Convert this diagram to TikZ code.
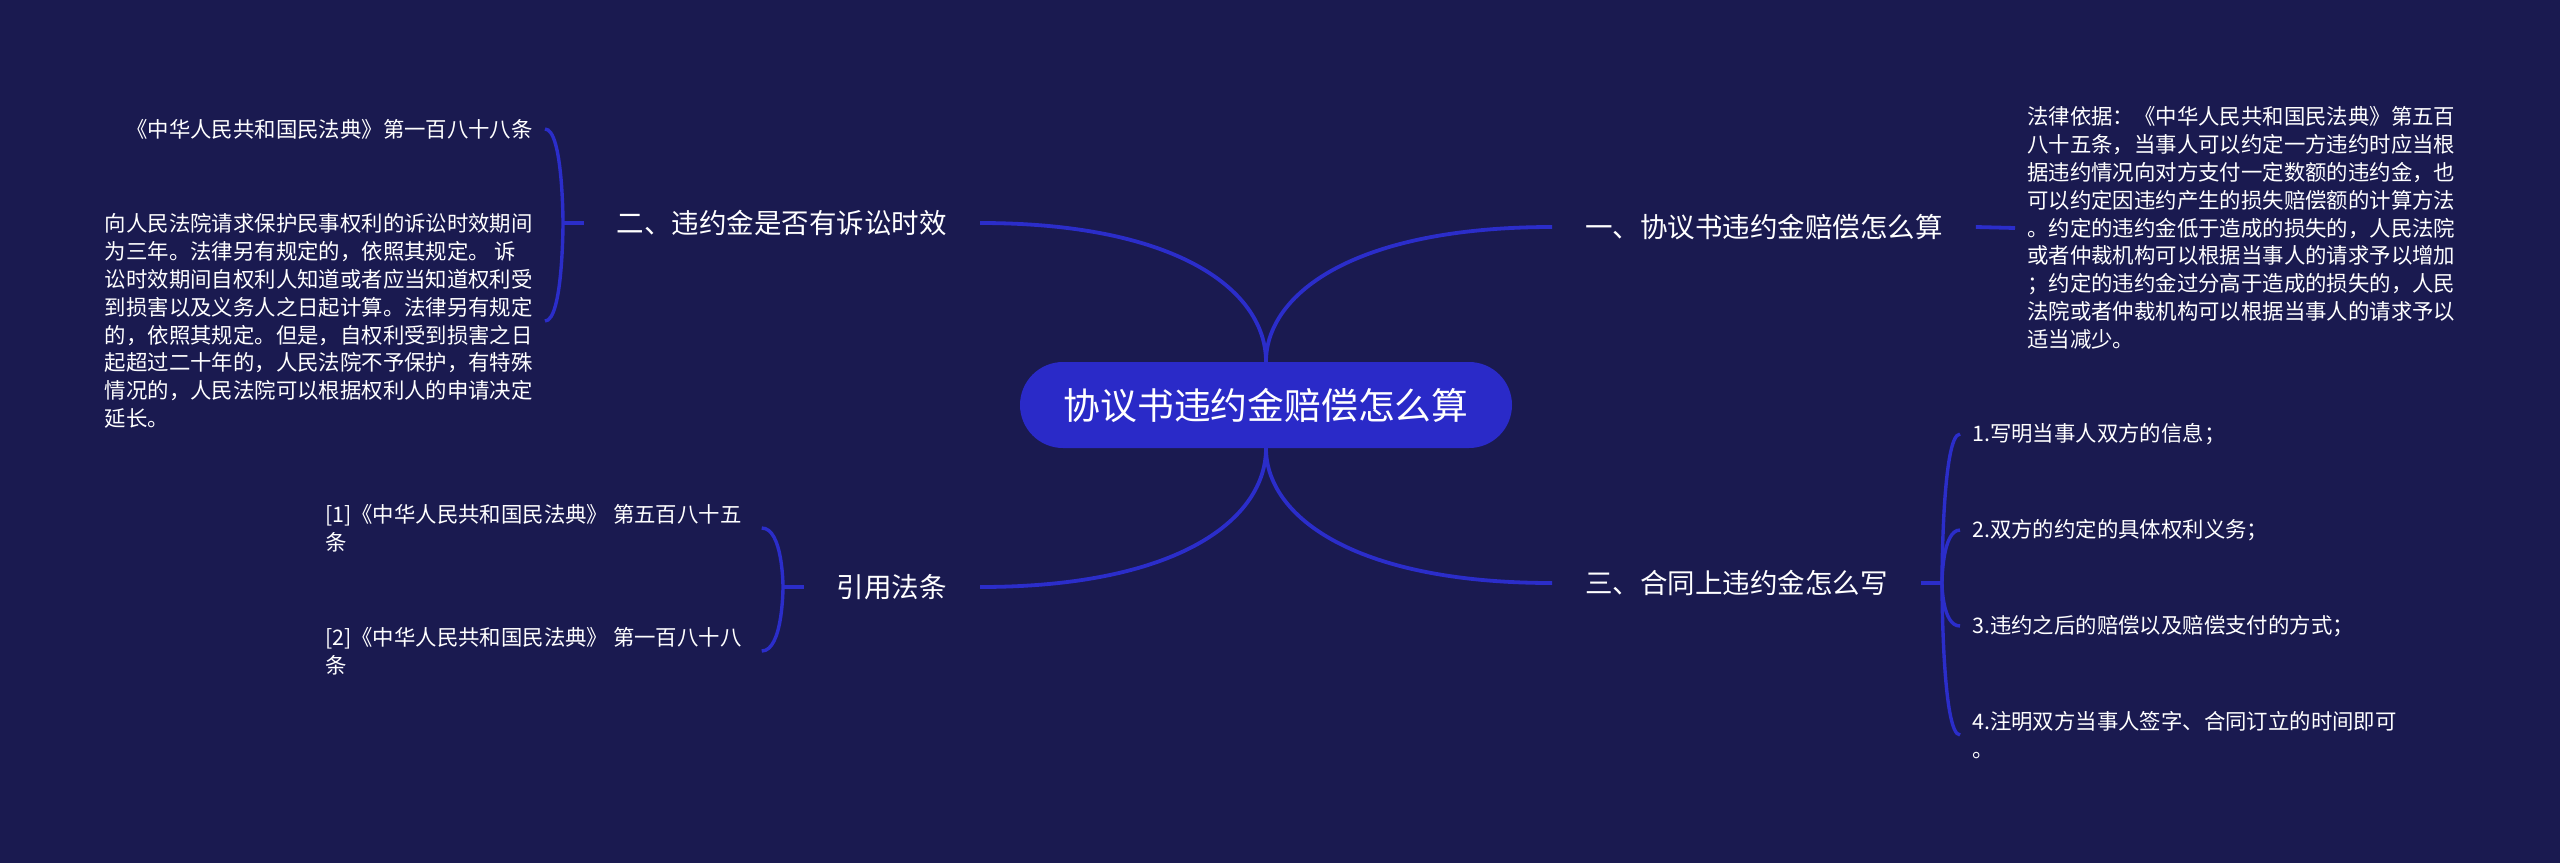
\documentclass[tikz,border=0pt]{standalone}
\usepackage{fontspec}
\setmainfont{Noto Sans CJK SC}
\definecolor{bg}{HTML}{1A1A50}
\definecolor{hub}{HTML}{2A2AC8}
\definecolor{wire}{HTML}{2B2DCA}
\begin{document}
\begin{tikzpicture}[x=1pt,y=-1pt,
  link/.style={draw=wire,line width=3.8pt},
  brace/.style={draw=wire,line width=3.4pt},
  hubnode/.style={fill=hub,rounded corners=43pt,minimum width=492pt,minimum height=86pt,inner sep=0pt,text=white,font=\fontsize{36.8pt}{44pt}\selectfont},
  topic/.style={text=white,inner xsep=33pt,inner ysep=4pt,font=\fontsize{27.5pt}{33pt}\selectfont},
  leaf/.style={text=white,inner xsep=12pt,inner ysep=2pt,align=left,font=\fontsize{21.4pt}{27.8pt}\selectfont},
]
\fill[bg] (0,0) rectangle (2560,863);
\useasboundingbox (0,0) rectangle (2560,863);

% hub and main topics
\node[hubnode] (c) at (1266,405) {协议书违约金赔偿怎么算};
\node[topic,anchor=west] (t1) at (1552,227) {一、协议书违约金赔偿怎么算};
\node[topic,anchor=east] (t2) at (980,223) {二、违约金是否有诉讼时效};
\node[topic,anchor=west] (t3) at (1552,583) {三、合同上违约金怎么写};
\node[topic,anchor=east] (t4) at (980,587) {引用法条};

\draw[link] (c.north) .. controls +(0,-67) and +(-200,0) .. (t1.west);
\draw[link] (c.north) .. controls +(0,-70) and +(200,0) .. (t2.east);
\draw[link] (c.south) .. controls +(0,67) and +(-200,0) .. (t3.west);
\draw[link] (c.south) .. controls +(0,70) and +(200,0) .. (t4.east);

% topic 1
\node[leaf,anchor=west] (r1) at (2015,228) {法律依据：《中华人民共和国民法典》第五百\\八十五条，当事人可以约定一方违约时应当根\\据违约情况向对方支付一定数额的违约金，也\\可以约定因违约产生的损失赔偿额的计算方法\\。约定的违约金低于造成的损失的，人民法院\\或者仲裁机构可以根据当事人的请求予以增加\\；约定的违约金过分高于造成的损失的，人民\\法院或者仲裁机构可以根据当事人的请求予以\\适当减少。};
\draw[link] (t1.east) -- (r1.west);

% topic 3
\coordinate (b3) at (1942,583);
\node[leaf,anchor=west] (k1) at (1960,434) {1.写明当事人双方的信息；};
\node[leaf,anchor=west] (k2) at (1960,530) {2.双方的约定的具体权利义务；};
\node[leaf,anchor=west] (k3) at (1960,626) {3.违约之后的赔偿以及赔偿支付的方式；};
\node[leaf,anchor=west] (k4) at (1960,735) {4.注明双方当事人签字、合同订立的时间即可\\。};
\draw[brace] (t3.east) -- (b3);
\draw[brace] (b3) .. controls (b3) and (b3 |- k1.west) .. (k1.west);
\draw[brace] (b3) .. controls (b3) and (b3 |- k2.west) .. (k2.west);
\draw[brace] (b3) .. controls (b3) and (b3 |- k3.west) .. (k3.west);
\draw[brace] (b3) .. controls (b3) and (b3 |- k4.west) .. (k4.west);

% topic 2
\coordinate (b2) at (563,223);
\node[leaf,anchor=east] (l1) at (545,129) {《中华人民共和国民法典》第一百八十八条};
\node[leaf,anchor=east] (l2) at (545,321) {向人民法院请求保护民事权利的诉讼时效期间\\为三年。法律另有规定的，依照其规定。 诉\\讼时效期间自权利人知道或者应当知道权利受\\到损害以及义务人之日起计算。法律另有规定\\的，依照其规定。但是，自权利受到损害之日\\起超过二十年的，人民法院不予保护，有特殊\\情况的，人民法院可以根据权利人的申请决定\\延长。};
\draw[brace] (t2.west) -- (b2);
\draw[brace] (b2) .. controls (b2) and (b2 |- l1.east) .. (l1.east);
\draw[brace] (b2) .. controls (b2) and (b2 |- l2.east) .. (l2.east);

% topic 4
\coordinate (b4) at (783,587);
\node[leaf,anchor=west,inner xsep=20pt] (d1) at (305,528) {[1]《中华人民共和国民法典》 第五百八十五\\条};
\node[leaf,anchor=west,inner xsep=20pt] (d2) at (305,651) {[2]《中华人民共和国民法典》 第一百八十八\\条};
\draw[brace] (t4.west) -- (b4);
\draw[brace] (b4) .. controls (b4) and (b4 |- d1.east) .. (d1.east);
\draw[brace] (b4) .. controls (b4) and (b4 |- d2.east) .. (d2.east);
\end{tikzpicture}
\end{document}
